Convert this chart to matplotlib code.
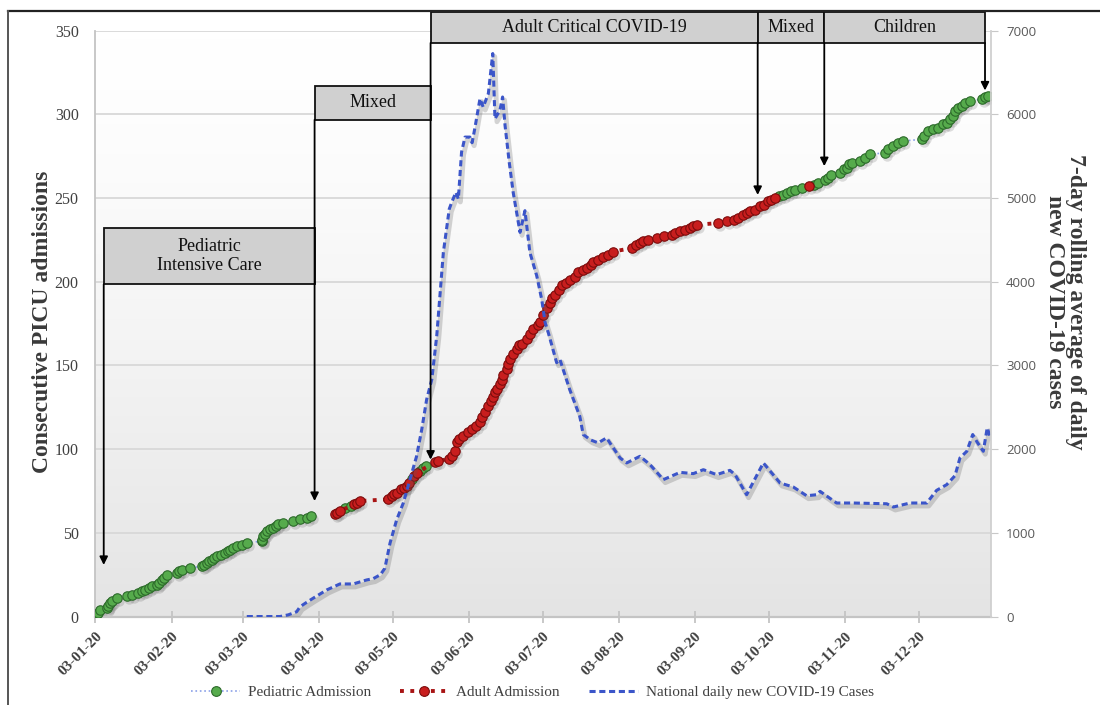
import numpy as np
import pandas as pd
import matplotlib
matplotlib.use("Agg")
import matplotlib.pyplot as plt
import matplotlib.dates as mdates
from matplotlib import transforms
from matplotlib.patches import Rectangle
from matplotlib.lines import Line2D
from matplotlib.colors import LinearSegmentedColormap

SERIF = "Liberation Serif"
SANS = "Open Sans"

# day offsets counted from 3 Jan 2020; nan in a count list breaks the line
ORIGIN = pd.Timestamp("2020-01-03")

ped_day = [0.3, 0.9, 1.9, 4.6, 5.3, 5.9, 6.8, 8.7, 12.7, 14.8, 17.5, 19.0, 20.2, 21.8,
           22.9, 24.9, 25.8, 27.0, 28.0, 29.0, 33.1, 34.2, 35.1, 38.5, 43.2, 44.2, 45.3,
           46.3, 47.3, 48.3, 49.4, 51.0, 52.7, 53.8, 54.8, 56.0, 57.5, 59.5, 61.6,
           67.7, 68.0, 68.3, 69.0, 69.7, 71.0, 72.4, 73.5, 74.4, 76.5, 80.5, 83.3, 86.0, 87.6,
           90.0,
           101.6, 104.0, 110.0,
           128.7, 132.2, 133.4, 134.5, 140.0,
           278.0, 280.0, 281.3, 283.0, 284.7, 287.4, 292.5, 294.2, 296.9, 298.0, 299.2,
           303.0, 304.5, 305.7, 306.5, 307.8, 311.1, 313.0, 315.2, 321.3, 322.5, 324.7,
           326.5, 328.5, 336.2, 337.0, 338.9, 341.0, 343.0, 345.1, 346.5, 347.8, 349.0,
           349.8, 351.0, 352.5, 354.0, 355.9, 360.7, 362.0, 363.3]
ped_n = [1, 2, 4, 5, 6, 8, 9, 11, 12, 13, 14, 15, 16, 17,
         18, 19, 20, 22, 23, 25, 26, 27, 28, 29, 30, 31, 32,
         33, 34, 35, 36, 37, 38, 39, 40, 41, 42, 43, 44,
         45, 46, 48, 49, 51, 52, 53, 54, 55, 56, 57, 58, 59, 60,
         np.nan,
         65, 66, np.nan,
         82, 87, 89, 90, np.nan,
         251, 252, 253, 254, 255, 256, 258, 259, 261, 262, 264,
         265, 267, 268, 270, 271, 272, 274, 276, 277, 279, 281,
         283, 284, 285, 287, 290, 291, 292, 294, 295, 297, 299,
         302, 304, 305, 307, 308, 309, 310, 311]

adult_day = [97.5, 98.5, 99.5, 105.3, 106.5, 107.7, 119.2, 120.5, 121.5, 122.6, 124.5,
             125.5, 126.7, 127.8, 129.8, 130.7, 138.2, 139.5, 143.8, 145.0, 146.3, 147.0,
             148.0, 149.7, 151.5, 153.1, 155.0, 156.5, 157.5, 158.5, 159.9, 160.8, 161.8,
             162.6, 163.3, 164.6, 165.3, 166.0, 167.3, 168.0, 168.7, 170.0, 171.4, 172.5,
             173.5, 175.5, 177.0, 178.2, 180.0, 180.9, 182.2, 183.6, 185.0, 186.0, 187.0,
             188.5, 189.7, 191.5, 193.1, 195.0, 196.5, 198.5, 199.9, 201.5, 202.6, 204.5,
             206.7, 208.7, 210.7, 218.2, 220.0, 221.6, 223.0, 225.0, 228.4, 231.5, 234.5,
             236.0, 237.9, 240.0, 241.9, 243.3, 244.7, 253.5, 256.9, 260.0, 261.6, 263.5,
             265.0, 266.4, 268.5, 270.4, 272.0, 273.8, 275.0, 276.5,
             283.0,
             290.4]
adult_n = [61, 62, 63, 67, 68, 69, 70, 72, 73, 74, 76,
           77, 78, 80, 84, 86, 92, 93, 94, 96, 99, 104,
           106, 108, 110, 112, 114, 116, 119, 122, 126, 129, 131,
           134, 136, 139, 141, 144, 148, 151, 154, 157, 160, 162,
           163, 166, 169, 172, 174, 176, 180, 184, 187, 190, 192,
           195, 198, 199, 201, 203, 206, 207, 208, 210, 212, 213,
           215, 216, 218, 220, 222, 223, 224, 225, 226, 227, 228,
           229, 230, 231, 232, 233, 234, 235, 236, 237, 238, 240,
           241, 242, 243, 245, 246, 248, 249, 250,
           np.nan,
           257]

# national 7-day rolling average of daily new cases
case_day = [61.6, 75.1, 78.5, 81.9, 83.3, 86.0, 88.7, 94.1, 99.5, 104.9, 110.4, 113.1,
            116.0, 117.8, 119.9, 122.6, 125.3, 128.0, 130.7, 132.8, 134.8, 136.9, 138.9,
            141.6, 144.0, 145.0, 146.7, 147.7, 149.0, 150.4, 152.4, 153.3, 154.5, 156.5,
            157.8, 159.9, 161.7, 162.6, 164.6, 165.7, 166.7, 168.4, 170.0, 172.8, 174.8,
            176.8, 179.6, 181.6, 183.0, 184.3, 187.7, 189.0, 193.0, 197.1, 198.5, 201.5,
            204.6, 208.0, 213.5, 216.2, 221.6, 225.7, 231.1, 237.9, 243.3, 247.4, 252.8,
            258.2, 260.3, 265.0, 271.8, 278.6, 284.0, 289.4, 293.5, 294.9, 301.6, 308.4,
            322.0, 324.7, 331.5, 338.3, 342.3, 346.4, 349.8, 351.8, 354.6, 357.0, 358.6,
            361.3, 362.9, 364.0]
case_avg = [0, 0, 20, 57, 117, 170, 220, 317, 389, 389, 437, 453,
            500, 577, 877, 1156, 1356, 1635, 1914, 2234, 2593, 2832, 3351,
            4350, 4868, 4948, 5068, 4988, 5547, 5727, 5727, 5660, 5847, 6186,
            6086, 6246, 6725, 5946, 6046, 6206, 5866, 5427, 5068, 4589, 4848,
            4350, 4070, 3790, 3511, 3391, 3032, 3072, 2713, 2393, 2174, 2110,
            2074, 2134, 1894, 1835, 1914, 1814, 1635, 1722, 1707, 1754, 1695,
            1746, 1695, 1455, 1835, 1595, 1547, 1443, 1455, 1495, 1356, 1356,
            1347, 1308, 1356, 1356, 1507, 1575, 1683, 1894, 1974, 2174, 2093,
            1974, 2254, 2153]

# care phases: edges (day offsets), labels and where each arrow ends (admission count)
phase_edges = [3.4, 89.2, 136.4, 269.5, 296.6, 362.0]
phase_labels = ["Pediatric\nIntensive Care", "Mixed", "Adult Critical COVID-19", "Mixed", "Children"]
phase_box_y = [(198.5, 232.3), (296.7, 316.9), (342.6, 361.2), (342.6, 361.2), (342.6, 361.2)]
arrow_tip = [30.8, 69.0, 93.7, 251.8, 269.0, 314.2]

GREEN, GREEN_EDGE = "#56ab4c", "#2c6a2a"
RED, RED_EDGE = "#c81e1e", "#7c0c0c"
BLUE = "#3b55c9"
PED_LINE = "#8aa0e8"
TXT = "#404040"


def to_dates(days):
    return (ORIGIN + pd.to_timedelta(np.asarray(days, float), unit="D")).to_numpy()


def dnum(day):
    return mdates.date2num(ORIGIN + pd.Timedelta(days=day))


fig = plt.figure(figsize=(11, 7.05), dpi=100)
ax = fig.add_axes([0.0867, 0.1255, 0.8139, 0.8312])
ax2 = ax.twinx()

# soft grey fade at the bottom of the plot area
fade = LinearSegmentedColormap.from_list("fade", ["#ffffff", "#e4e4e4"])
grad = np.linspace(0, 1, 256).reshape(-1, 1) ** 1.4
ax.imshow(grad, extent=[0, 1, 0, 1], transform=ax.transAxes, aspect="auto",
          cmap=fade, zorder=-1, interpolation="bicubic")

shadow = transforms.offset_copy(ax.transData, fig=fig, x=2, y=-3, units="dots")
shadow2 = transforms.offset_copy(ax2.transData, fig=fig, x=2, y=-3, units="dots")

ped_x, adult_x = to_dates(ped_day), to_dates(adult_day)

# marker shadows
ax.plot(ped_x, ped_n, "o", ms=7.5, color="0.3", alpha=0.18, mec="none", transform=shadow, zorder=2)
ax.plot(adult_x, adult_n, "o", ms=7.5, color="0.3", alpha=0.18, mec="none", transform=shadow, zorder=2)

ax.plot(ped_x, ped_n, ls=":", lw=1.2, color=PED_LINE, marker="o", ms=6.8,
        mfc=GREEN, mec=GREEN_EDGE, mew=0.8, zorder=3)
ax.plot(adult_x, adult_n, ls=":", lw=2.8, color="#a81414", marker="o", ms=6.8,
        mfc=RED, mec=RED_EDGE, mew=0.8, zorder=4)

case_x = to_dates(case_day)
ax2.plot(case_x, case_avg, color="0.35", lw=3.5, alpha=0.25, transform=shadow2, zorder=1,
         solid_capstyle="round")
ax2.plot(case_x, case_avg, color=BLUE, lw=2.2, ls=(0, (2.0, 1.2)), zorder=2)

# axes limits and ticks
ax.set_xlim(ORIGIN, ORIGIN + pd.Timedelta(days=364.3))
ax.set_ylim(0, 350)
ax2.set_ylim(0, 7000)

month_ticks = pd.date_range("2020-01-03", periods=12, freq=pd.DateOffset(months=1))
ax.set_xticks(month_ticks.to_numpy())
ax.set_xticklabels([d.strftime("%d-%m-%y") for d in month_ticks], rotation=45, ha="right",
                   rotation_mode="anchor", fontweight="bold", family=SERIF, fontsize=11,
                   color=TXT)
ax.tick_params(axis="x", direction="inout", length=9, width=1.3, color="#c4c4c4", pad=5)

ax.set_yticks(np.arange(0, 351, 50))
ax.set_yticklabels([str(v) for v in range(0, 351, 50)], family=SERIF, fontsize=11.5, color=TXT)
ax.tick_params(axis="y", length=0, pad=12)

ax2.set_yticks(np.arange(0, 7001, 1000))
ax2.set_yticklabels([str(v) for v in range(0, 7001, 1000)], family=SANS, fontsize=9.5,
                    color="#595959")
ax2.tick_params(axis="y", direction="out", length=5, color="#c8c8c8", pad=6)

ax.yaxis.grid(True, color="#d8d8d8", lw=1.3)
ax.set_axisbelow(True)
for side in ("top", "right"):
    ax.spines[side].set_visible(False)
ax.spines["left"].set_color("#c4c4c4")
ax.spines["left"].set_linewidth(1.3)
ax.spines["bottom"].set_color("#c4c4c4")
ax.spines["bottom"].set_linewidth(1.6)
for side in ("top", "left", "bottom"):
    ax2.spines[side].set_visible(False)
ax2.spines["right"].set_color("#d0d0d0")
ax2.spines["right"].set_linewidth(1.3)

# phase boxes and arrows, kept above the case curve
for i, label in enumerate(phase_labels):
    x0, x1 = dnum(phase_edges[i]), dnum(phase_edges[i + 1])
    y0, y1 = phase_box_y[i]
    ax2.add_patch(Rectangle((x0, y0), x1 - x0, y1 - y0, transform=ax.transData,
                            facecolor="#d0d0d0", edgecolor="#111111", lw=1.3,
                            clip_on=False, zorder=5))
    ax2.text((x0 + x1) / 2, (y0 + y1) / 2, label, transform=ax.transData, ha="center",
             va="center", family=SERIF, fontsize=13, color="#111111", zorder=6,
             linespacing=1.15, clip_on=False)

arrow_start = [b[0] for b in phase_box_y] + [phase_box_y[-1][0]]
for day, top, tip in zip(phase_edges, arrow_start, arrow_tip):
    ax2.annotate("", xy=(dnum(day), tip), xytext=(dnum(day), top),
                 xycoords=ax.transData, textcoords=ax.transData, annotation_clip=False,
                 arrowprops=dict(arrowstyle="-|>", color="black", lw=1.3,
                                 mutation_scale=12, shrinkA=0, shrinkB=0), zorder=6)

fig.text(0.0385, 0.543, "Consecutive PICU admissions", rotation=90, ha="center",
         va="center", family=SERIF, fontsize=17, fontweight="bold", color="#3a3a3a")
fig.text(0.968, 0.5716, "7-day rolling average of daily\nnew COVID-19 cases", rotation=-90,
         ha="center", va="center", multialignment="center", family=SERIF, fontsize=17,
         fontweight="bold", color="#3a3a3a", linespacing=1.0)

handles = [
    Line2D([], [], ls=":", lw=1.2, color=PED_LINE, marker="o", ms=7, mfc=GREEN,
           mec=GREEN_EDGE, mew=0.8),
    Line2D([], [], ls=":", lw=2.8, color="#a81414", marker="o", ms=7, mfc=RED,
           mec=RED_EDGE, mew=0.8),
    Line2D([], [], ls=(0, (2.0, 1.2)), lw=2.2, color=BLUE),
]
fig.legend(handles, ["Pediatric Admission", "Adult Admission",
                     "National daily new COVID-19 Cases"],
           loc="center", bbox_to_anchor=(0.484, 0.018), ncol=3, frameon=False,
           prop=dict(family=SERIF, size=11), labelcolor=TXT, handlelength=3.2,
           handletextpad=0.5, columnspacing=1.9)

# frame lines along the top and left edge
fig.add_artist(Line2D([8 / 1100, 1], [1 - 11 / 705] * 2, color="#222222", lw=1.6,
                      transform=fig.transFigure))
fig.add_artist(Line2D([8 / 1100] * 2, [0, 1 - 11 / 705], color="#555555", lw=1.4,
                      transform=fig.transFigure))

fig.savefig("out.png", dpi=100)
